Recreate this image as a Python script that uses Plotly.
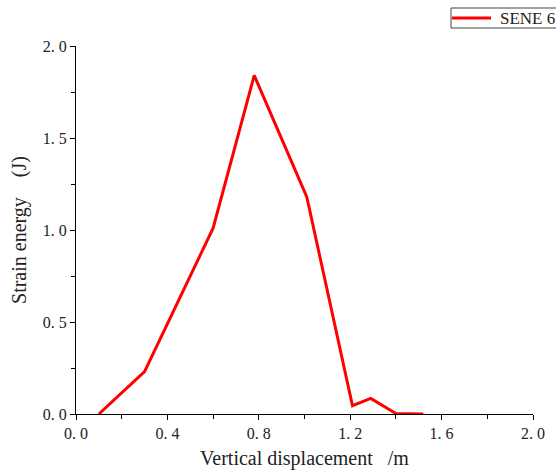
import plotly.graph_objects as go

# Strain energy released vs. vertical displacement
displacement = [0.1, 0.3, 0.6, 0.78, 1.01, 1.21, 1.29, 1.4, 1.52]
strain_energy = [0.0, 0.23, 1.01, 1.84, 1.18, 0.045, 0.085, 0.003, 0.0]
series_name = "SENE 6"

x_tick_vals = [0.0, 0.4, 0.8, 1.2, 1.6, 2.0]
x_tick_text = ["0. 0", "0. 4", "0. 8", "1. 2", "1. 6", "2. 0"]
y_tick_vals = [0.0, 0.5, 1.0, 1.5, 2.0]
y_tick_text = ["0. 0", "0. 5", "1. 0", "1. 5", "2. 0"]

SERIF = "Liberation Serif, DejaVu Serif, serif"
RED = "#ff0000"

fig = go.Figure()
fig.add_trace(go.Scatter(
    x=displacement, y=strain_energy, mode="lines", name=series_name,
    line=dict(color=RED, width=3), showlegend=False,
))

axis_common = dict(
    showgrid=False, zeroline=False, showline=True, linecolor="black", linewidth=1.2,
    ticks="outside", ticklen=5, tickwidth=1, tickcolor="black",
    tickfont=dict(family=SERIF, size=16, color="#222"),
)

fig.update_xaxes(
    **axis_common, range=[0, 2], tickmode="array",
    tickvals=x_tick_vals, ticktext=x_tick_text,
    minor=dict(ticks="outside", ticklen=4, tickwidth=1, tickcolor="black",
               tickvals=[0.2, 0.6, 1.0, 1.4, 1.8]),
    title=dict(text="Vertical displacement\u00a0\u00a0\u00a0/m",
               font=dict(family=SERIF, size=20, color="#222"), standoff=12),
)
fig.update_yaxes(
    **axis_common, range=[0, 2], tickmode="array",
    tickvals=y_tick_vals, ticktext=y_tick_text,
    minor=dict(ticks="outside", ticklen=4, tickwidth=1, tickcolor="black",
               tickvals=[0.25, 0.75, 1.25, 1.75]),
    title=dict(text="Strain energy\u00a0\u00a0\u00a0\u00a0(J)",
               font=dict(family=SERIF, size=20, color="#222"), standoff=10),
)

# Legend box in the top-right corner
fig.add_shape(type="rect", xref="paper", yref="paper",
              x0=(451 - 76) / 457, x1=(600 - 76) / 457,
              y0=(414 - 28) / 368, y1=(414 - 8) / 368,
              line=dict(color="#444", width=1), fillcolor="white")
fig.add_shape(type="line", xref="paper", yref="paper",
              x0=(452 - 76) / 457, x1=(491 - 76) / 457,
              y0=(414 - 18) / 368, y1=(414 - 18) / 368,
              line=dict(color=RED, width=3))
fig.add_annotation(xref="paper", yref="paper", x=(498 - 76) / 457, y=(414 - 18) / 368,
                   xanchor="left", yanchor="middle", showarrow=False,
                   text=series_name, font=dict(family=SERIF, size=17, color="#222"))

fig.update_layout(
    width=556, height=470,
    margin=dict(l=76, r=23, t=46, b=56, autoexpand=False),
    plot_bgcolor="white", paper_bgcolor="white",
)

fig.write_html("out.html")
